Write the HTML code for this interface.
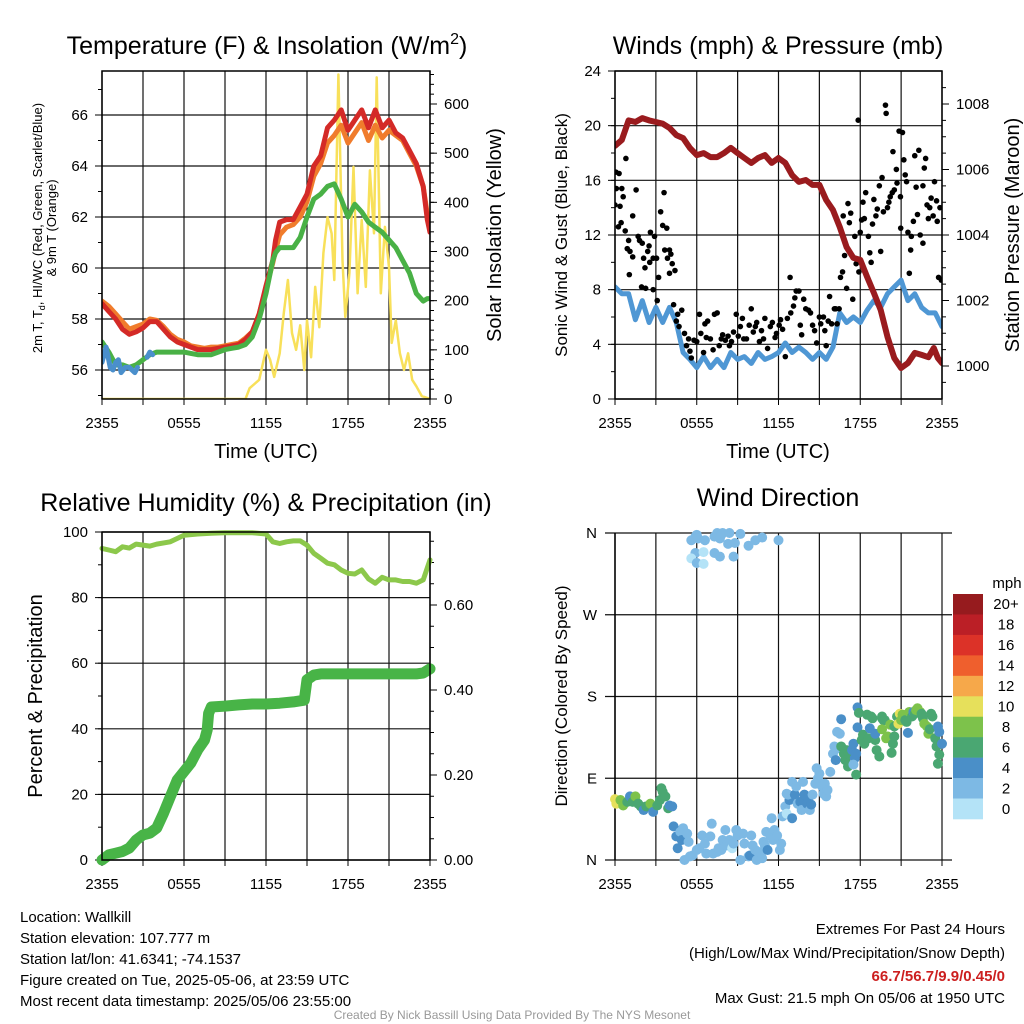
<!DOCTYPE html>
<html><head><meta charset="utf-8"><style>
html,body{margin:0;padding:0;background:#fff;}
svg{display:block;font-family:"Liberation Sans",Arial,sans-serif;}
</style></head><body>
<svg id="root" width="1024" height="1024" viewBox="0 0 1024 1024" xmlns="http://www.w3.org/2000/svg">
<rect width="1024" height="1024" fill="#fff"/>
<g id="p1"></g>
<g id="p2"></g>
<g id="p3"></g>
<g id="p4"></g>
<g font-size="25" text-anchor="middle" fill="#000">
<text x="267" y="54">Temperature (F) &amp; Insolation (W/m<tspan dy="-10" font-size="16">2</tspan><tspan dy="10">)</tspan></text>
<text x="778" y="54">Winds (mph) &amp; Pressure (mb)</text>
<text x="266" y="511">Relative Humidity (%) &amp; Precipitation (in)</text>
<text x="778" y="506">Wind Direction</text>
</g>
<g fill="#000" text-anchor="middle">
<text x="266" y="458" font-size="20">Time (UTC)</text>
<text x="778" y="458" font-size="20">Time (UTC)</text>
<text transform="translate(42,228) rotate(-90)" font-size="13">2m T, T<tspan font-size="9" dy="3">d</tspan><tspan dy="-3">, HI/WC (Red, Green, Scarlet/Blue)</tspan></text>
<text transform="translate(56,228) rotate(-90)" font-size="13">&amp; 9m T (Orange)</text>
<text transform="translate(501,235) rotate(-90)" font-size="20">Solar Insolation (Yellow)</text>
<text transform="translate(567,235) rotate(-90)" font-size="17">Sonic Wind &amp; Gust (Blue, Black)</text>
<text transform="translate(1019,235) rotate(-90)" font-size="20">Station Pressure (Maroon)</text>
<text transform="translate(42,696) rotate(-90)" font-size="20">Percent &amp; Precipitation</text>
<text transform="translate(567,696) rotate(-90)" font-size="17">Direction (Colored By Speed)</text>
</g>
<g id="cbar"></g>
<g font-size="15" fill="#000">
<text x="20" y="922">Location: Wallkill</text>
<text x="20" y="943">Station elevation: 107.777 m</text>
<text x="20" y="964">Station lat/lon: 41.6341; -74.1537</text>
<text x="20" y="985">Figure created on Tue, 2025-05-06, at 23:59 UTC</text>
<text x="20" y="1006">Most recent data timestamp: 2025/05/06 23:55:00</text>
</g>
<g font-size="15" fill="#000" text-anchor="end">
<text x="1005" y="934">Extremes For Past 24 Hours</text>
<text x="1005" y="958">(High/Low/Max Wind/Precipitation/Snow Depth)</text>
<text x="1005" y="981" fill="#cc1f1f" font-weight="bold">66.7/56.7/9.9/0.45/0</text>
<text x="1005" y="1003">Max Gust: 21.5 mph On 05/06 at 1950 UTC</text>
</g>
<text x="512" y="1019" font-size="12" fill="#999" text-anchor="middle">Created By Nick Bassill Using Data Provided By The NYS Mesonet</text>
</svg>
<script>
// ---------- DATA ----------
const xTickLabels = ["2355","0555","1155","1755","2355"];
const tempT = [0,0.5,1,1.5,2,2.5,3,3.5,4,4.5,5,5.5,6,6.5,7,7.5,8,8.5,9,9.5,10,10.5,11,11.5,12,12.5,12.7,13,13.5,14,14.5,15,15.5,16,16.5,17,17.5,18,18.5,19,19.5,20,20.5,21,21.5,22,22.5,23,23.5,23.8,24];
const tempRed = [58.6,58.3,58.0,57.6,57.4,57.5,57.65,57.9,57.9,57.6,57.3,57.1,57.0,56.9,56.8,56.8,56.8,56.85,56.9,56.95,57.0,57.2,57.5,58.2,59.3,60.3,61.1,61.8,61.9,61.9,62.4,62.9,64.0,64.4,65.5,65.8,66.2,65.4,65.8,66.2,65.5,66.2,65.5,65.8,65.3,65.1,64.6,64.1,63.2,61.9,61.4];
const tempOrange = [58.7,58.5,58.2,57.9,57.6,57.7,57.8,58.0,57.95,57.7,57.4,57.2,57.1,56.95,56.9,56.85,56.9,56.9,56.95,57.0,57.05,57.25,57.5,58.2,59.2,60.2,60.7,61.3,61.6,61.7,62.0,62.6,63.6,64.1,64.9,65.2,65.6,64.9,65.3,65.7,65.0,65.6,65.1,65.4,65.2,65.0,64.5,64.0,63.2,62.1,61.6];
const tempGreen = [57.1,56.7,56.2,56.2,56.1,56.2,56.4,56.6,56.7,56.7,56.7,56.7,56.7,56.65,56.6,56.6,56.6,56.7,56.8,56.85,56.9,57.0,57.3,58.0,59.0,60.3,60.6,60.8,60.8,60.8,61.2,62.0,62.7,62.9,63.2,63.3,62.7,62.0,62.5,62.2,61.8,61.6,61.4,61.1,60.8,60.3,59.8,59.0,58.7,58.8,58.8];
const hiT = [0,0.15,0.3,0.45,0.6,0.8,1.0,1.2,1.4,1.7,2.0,2.2,2.4,2.6];
const hiV = [56.3,56.6,56.9,56.5,56.1,56.0,56.3,56.4,55.9,56.1,56.1,56.0,55.9,56.1];
const hiT2 = [3.3,3.5,3.7];
const hiV2 = [56.5,56.7,56.6];
const solarT = [0,10.5,10.8,11.5,12,12.3,12.6,13,13.3,13.6,13.9,14.2,14.5,14.8,15,15.3,15.6,15.9,16.2,16.5,16.8,17,17.3,17.6,17.8,18.1,18.4,18.7,19,19.3,19.6,19.9,20.1,20.4,20.7,21,21.2,21.5,21.8,22.1,22.4,22.7,23,23.4,24];
const solarW = [0,0,22,39,100,80,45,93,175,242,134,100,150,59,160,85,228,146,297,370,337,242,660,282,167,256,472,215,364,228,465,337,654,215,350,268,114,160,93,59,93,39,26,6,0];
const windT = [0,0.5,1,1.5,2,2.5,3,3.5,4,4.5,5,5.5,6,6.5,7,7.5,8,8.5,9,9.5,10,10.5,11,11.5,12,12.5,13,13.5,14,14.5,15,15.5,16,16.5,17,17.5,18,18.5,19,19.5,20,20.5,21,21.5,22,22.5,23,23.5,24];
const windSpd = [8.2,7.7,7.7,5.8,7.2,5.6,6.7,5.6,6.7,5.6,3.4,2.9,2.3,3.1,2.3,2.9,2.3,3.4,2.9,3.1,2.6,3.4,2.9,3.1,3.4,4.1,3.4,3.8,3.4,2.9,3.4,2.9,3.8,6.3,5.6,6.0,5.6,6.5,7.2,6.7,7.7,8.2,8.7,7.2,7.7,6.7,6.3,6.3,5.3];
const presT = [0,0.5,1,1.5,2,2.5,3,3.5,4,4.5,5,5.5,6,6.5,7,7.5,8,8.5,9,9.5,10,10.5,11,11.5,12,12.5,13,13.5,14,14.5,15,15.5,16,16.5,17,17.5,18,18.5,19,19.5,20,20.5,21,21.5,22,22.5,23,23.4,23.7,24];
const presMb = [1006.72,1006.9,1007.5,1007.45,1007.57,1007.5,1007.45,1007.4,1007.27,1007.05,1006.96,1006.66,1006.44,1006.5,1006.38,1006.38,1006.5,1006.66,1006.5,1006.35,1006.2,1006.35,1006.44,1006.2,1006.35,1006.2,1005.83,1005.62,1005.68,1005.53,1005.53,1005.07,1004.76,1004.24,1003.63,1003.3,1003.24,1002.72,1002.23,1001.71,1000.89,1000.24,999.94,1000.09,1000.4,1000.34,1000.27,1000.55,1000.24,1000.09];
const gustT = [0,0.07,0.3,0.1,0.37,0.25,0.5,0.6,0.8,0.45,0.75,1,0.9,1.1,1.3,1.3,1.55,1.7,1.8,2.0,2.1,2.2,2.4,2.5,2.6,2.55,2.8,2.9,3.05,1.95,2.25,2.8,3.1,3.2,3.35,3.5,3.6,3.65,3.8,3.85,4.0,4.0,4.1,4.2,4.4,1.05,4.3,4.5,4.6,4.7,4.9,5.1,5.25,5.4,5.5,5.6,5.8,6.0,6.2,6.3,6.5,6.6,6.7,6.8,7.0,7.2,7.3,7.5,7.65,7.8,7.9,8.1,8.3,8.4,8.55,8.7,8.9,9.05,9.2,9.35,9.45,9.65,9.85,10.0,10.15,10.3,10.4,10.6,10.75,10.9,11.0,11.2,11.4,11.55,11.75,11.85,12.05,12.15,12.3,12.5,12.65,12.85,12.9,13.1,13.2,13.3,13.5,13.6,13.7,13.85,14.0,14.2,14.35,14.5,14.65,14.8,15.0,15.1,15.3,15.4,15.5,15.65,15.75,15.9,16.1,16.2,16.3,16.45,16.55,16.7,16.75,16.85,17.0,17.1,17.2,17.3,17.45,17.6,17.7,17.9,18.0,18.1,18.2,17.85,18.3,18.4,18.6,18.7,18.8,18.9,19.0,19.15,19.25,19.4,19.5,19.6,19.7,19.85,20.0,19.9,20.1,20.2,20.35,20.4,20.5,20.65,20.7,20.85,20.95,20.97,21.1,21.2,21.3,21.4,21.5,21.6,21.7,21.75,21.9,22.0,22.1,22.2,22.3,22.4,22.6,22.6,22.7,22.8,22.9,23.0,23.1,23.2,23.35,23.45,23.6,23.65,23.75,23.85,23.95];
const gustV = [14.2,16.6,16.5,15.4,14.1,12.6,15.4,14.8,17.6,12.9,12.3,11.6,11.0,10.8,10.4,13.4,15.3,11.9,11.6,11.4,10.3,9.6,10.8,11.2,12.2,10.0,10.3,11.9,10.3,8.2,8.1,8.0,7.2,8.9,13.7,12.7,15.1,10.9,12.5,10.3,10.9,9.2,10.6,9.9,9.4,9.1,6.9,5.7,6.2,5.3,6.5,4.8,3.9,4.4,3.5,3.0,4.3,4.2,6.2,4.8,3.4,5.5,4.5,5.7,4.4,3.6,6.2,6.3,3.9,4.4,4.7,4.3,4.6,3.9,4.2,4.9,6.2,4.6,5.3,5.9,4.4,4.4,5.4,6.6,4.9,5.3,5.6,4.2,5.0,4.4,5.9,3.7,5.3,5.6,4.5,4.8,5.4,5.8,5.1,3.1,5.9,8.9,6.3,6.8,7.4,7.9,7.9,5.4,4.7,7.3,6.6,6.5,6.3,5.4,5.0,4.1,6.0,5.5,6.0,5.0,3.9,5.7,7.5,5.5,6.6,6.6,5.5,6.6,8.9,9.3,13.4,10.5,8.1,14.3,12.9,13.6,7.3,11.9,9.9,9.3,12.2,13.1,14.4,20.4,13.2,15.1,11.9,10.7,10.0,12.8,14.6,13.4,13.9,15.6,10.8,16.2,13.7,21.5,14.0,20.9,14.4,14.8,15.1,18.1,15.3,16.8,15.8,19.6,14.8,12.5,19.5,17.5,16.4,15.9,12.2,9.2,10.9,11.9,13.0,17.8,15.5,13.5,18.2,12.0,15.6,11.4,16.9,17.6,14.2,13.2,14.0,14.7,13.4,15.9,14.5,13.0,8.9,14.0,8.7];
const rhT = [0,0.5,1,1.5,2,2.5,3,3.5,4,5,6,7,8,9,10,11,12,12.5,13,13.5,14,14.5,15,15.5,16,16.5,17,17.5,18,18.5,19,19.5,20,20.5,21,21.5,22,22.5,23,23.5,24];
const rhPct = [95.0,94.5,94.0,95.5,95.1,96.3,96.0,95.7,96.3,97.0,99.0,99.4,99.6,99.8,99.8,99.8,99.4,97.0,96.5,97.0,97.3,97.3,96.0,93.5,92.0,90.5,90.0,88.4,87.4,87.2,88.4,85.7,84.4,86.2,85.4,85.4,84.9,84.9,84.4,85.4,91.5];
const prT = [0,0.5,1,1.5,2,2.5,3,3.5,4,4.5,5,5.5,6,6.5,7,7.5,7.7,7.8,8,9,10,11,12,13,14,14.8,15,15.5,16,17,18,19,20,21,22,23,23.5,24];
const prIn = [0,0.012,0.016,0.02,0.028,0.047,0.059,0.063,0.075,0.11,0.149,0.188,0.208,0.228,0.259,0.282,0.306,0.345,0.36,0.362,0.365,0.367,0.367,0.369,0.372,0.376,0.424,0.435,0.438,0.438,0.438,0.438,0.438,0.438,0.438,0.438,0.44,0.45];
const dirT = [0,0.1,0.4,0.6,0.9,1.1,1.3,1.5,1.7,1.9,2.1,2.3,2.6,2.8,3.1,3.3,3.4,3.5,3.7,3.9,4.0,4.2,
4.3,4.5,4.6,4.8,4.9,5.0,5.3,5.4,5.1,5.5,5.7,6.0,6.2,6.4,6.6,6.7,7.0,7.1,7.2,7.5,7.6,7.8,7.9,8.1,8.2,8.4,8.6,8.7,8.9,9.0,9.2,9.4,9.5,9.8,9.9,10.0,10.1,10.3,10.4,10.5,10.6,10.8,10.9,11.0,11.1,11.2,11.4,11.5,11.6,11.7,11.9,12.1,12.2,
5.6,5.9,6.0,6.1,6.6,5.9,6.5,5.6,6.0,6.5,7.3,7.5,7.8,7.7,7.9,8.4,8.3,8.8,9.2,7.3,7.7,8.7,9.8,10.3,10.8,12.0,
12.3,12.5,12.6,12.8,13.0,12.7,12.6,13.0,13.2,13.3,13.4,13.6,13.7,13.8,13.9,14.1,14.2,14.3,14.4,14.5,14.7,14.8,14.9,15.0,15.2,15.3,15.4,15.5,15.6,15.8,16.0,16.1,16.3,16.4,16.5,16.2,
16.6,16.6,16.8,16.9,17.0,17.1,17.2,17.4,17.5,17.6,17.5,17.7,17.7,17.8,17.8,17.9,18.1,18.2,18.3,18.5,18.6,18.7,18.8,18.9,19.1,19.1,19.2,19.4,19.6,19.6,19.7,19.6,19.8,19.9,20.0,20.2,20.3,20.4,20.5,20.5,20.7,20.8,20.9,21.0,21.1,21.3,21.4,21.5,21.6,21.8,21.9,22.0,22.1,22.2,22.4,22.5,22.6,22.7,22.9,23.0,23.1,23.2,23.3,23.5,23.6,23.7,23.8,23.8,23.7,24.0];
const dirDeg = [67,62,66,60,64,70,64,70,62,59,55,59,62,53,60,66,79,75,70,57,60,59,
37,26,13,31,22,35,29,20,0,4,5,11,13,27,18,7,26,40,7,9,13,11,22,33,16,22,13,18,33,27,0,29,18,4,5,27,16,11,0,9,7,2,20,16,31,11,27,46,22,33,27,11,18,
352,356,358,354,352,338,339,332,327,326,356,360,358,354,360,360,348,349,359,338,334,334,346,352,355,352,
48,59,51,66,46,72,73,86,72,81,62,64,55,86,72,62,68,55,61,72,84,101,90,95,81,73,84,70,77,97,117,125,141,123,139,110,
155,125,117,110,121,103,116,121,128,112,105,94,117,146,168,162,132,138,128,160,134,145,158,156,132,139,121,114,156,158,154,144,154,134,136,149,118,128,136,147,158,150,161,154,160,154,152,140,163,158,163,161,165,167,163,161,156,150,147,139,144,161,158,134,125,147,116,141,106,128];
const dirSpd = [10,9,8,7,5,4,6,7,6,6,4,6,8,4,6,6,6,6,6,6,4,4,
4,4,4,2,4,2,2,2,2,2,2,2,2,2,2,2,2,2,2,2,2,2,2,2,2,2,0,2,2,2,2,2,2,2,4,2,2,2,2,2,2,2,2,2,2,4,2,2,2,2,2,2,2,
2,2,2,2,2,2,0,0,2,0,2,2,2,2,2,2,2,2,2,2,2,2,2,2,2,2,
2,2,0,4,4,2,2,2,4,2,2,4,2,2,4,4,4,2,4,2,2,2,2,2,2,2,2,2,2,2,2,2,2,2,2,4,
4,6,6,6,6,6,6,4,4,4,2,6,4,4,4,6,6,6,6,6,6,4,6,6,6,4,6,6,6,6,6,8,6,8,8,8,6,6,6,6,6,10,10,8,8,6,6,4,8,6,4,6,8,8,8,6,6,8,8,8,6,6,6,6,6,4,6,4,6,4];
const cbarLabels = ["20+","18","16","14","12","10","8","6","4","2","0"];
const cbarColors = ["#961b1e","#bb1f26","#dc3228","#ef5f2d","#f6a84a","#e6e05b","#7dc24b","#4aa772","#4a8fc8","#7db9e4","#b4e3f7"];

// ---------- RENDER ----------
const NS="http://www.w3.org/2000/svg";
function el(tag, attrs, parent){const e=document.createElementNS(NS,tag);for(const k in attrs)e.setAttribute(k,attrs[k]);parent.appendChild(e);return e;}
function lin(d0,d1,r0,r1){return v=>r0+(v-d0)*(r1-r0)/(d1-d0);}

function frame(g, P, xs){
  for(let h=0;h<=24;h+=3){
    const x=xs(h);
    const l=el('line',{x1:x,y1:P.y0,x2:x,y2:P.y1,stroke:'#111','stroke-width':1.2},g);
    
    
    const t=el('line',{x1:x,y1:P.y1,x2:x,y2:P.y1+6,stroke:'#000','stroke-width':1},g);
    
    
  }
  for(let i=0;i<xTickLabels.length;i++){
    const tx=el('text',{x:xs(i*6),y:P.y1+29,'font-size':15,'text-anchor':'middle'},g);
    tx.textContent=xTickLabels[i];
    
    
  }
}
function hgrid(g,P,y){
  const l=el('line',{x1:P.x0,y1:y,x2:P.x1,y2:y,stroke:'#111','stroke-width':1.2},g);
  
  
}
function leftAxis(g,P,ys,major,minor,fmt,gridOn){
  for(const v of minor){const y=ys(v);const t=el('line',{x1:P.x0-4,y1:y,x2:P.x0,y2:y,stroke:'#000','stroke-width':1},g);
    
    }
  for(const v of major){const y=ys(v);
    if(gridOn)hgrid(g,P,y);
    const t=el('line',{x1:P.x0-7,y1:y,x2:P.x0,y2:y,stroke:'#000','stroke-width':1},g);
    
    
    const tx=el('text',{x:P.x0-14,y:y+5,'font-size':15,'text-anchor':'end'},g);tx.textContent=fmt(v);
    
    }
}
function rightAxis(g,P,ys,major,minor,fmt){
  for(const v of minor){const y=ys(v);const t=el('line',{x1:P.x1,y1:y,x2:P.x1+4,y2:y,stroke:'#000','stroke-width':1},g);
    
    }
  for(const v of major){const y=ys(v);
    const t=el('line',{x1:P.x1,y1:y,x2:P.x1+7,y2:y,stroke:'#000','stroke-width':1},g);
    
    
    const tx=el('text',{x:P.x1+14,y:y+5,'font-size':15,'text-anchor':'start'},g);tx.textContent=fmt(v);
    
    }
}
function border(g,P){
  const r=el('rect',{x:P.x0,y:P.y0,width:P.x1-P.x0,height:P.y1-P.y0,fill:'none',stroke:'#000','stroke-width':1.5},g);
  
  
}
function path(g,T,V,xs,ys,color,w,name){
  let d='';for(let i=0;i<T.length;i++){d+=(i?'L':'M')+xs(T[i]).toFixed(1)+','+ys(V[i]).toFixed(1);}
  const p=el('path',{d:d,fill:'none',stroke:color,'stroke-width':w,'stroke-linejoin':'round','stroke-linecap':'round'},g);
  
  
  return p;
}
function range(a,b,s){const r=[];for(let v=a;v<=b+1e-9;v+=s)r.push(+v.toFixed(4));return r;}

(function(){
  const g=document.getElementById('p1');
  const P={x0:102,x1:430,y0:71,y1:399};
  const xs=lin(0,24,P.x0,P.x1);
  const ys=lin(56,66,370,115);
  const ys2=lin(0,600,399,104);
  frame(g,P,xs);
  leftAxis(g,P,ys,[56,58,60,62,64,66],range(55,67,1),v=>String(v),true);
  rightAxis(g,P,ys2,[0,100,200,300,400,500,600],range(0,660,20),v=>String(v));
  const clip=el('clipPath',{id:'c1'},g);el('rect',{x:P.x0,y:P.y0,width:P.x1-P.x0,height:P.y1-P.y0},clip);
  const d=el('g',{'clip-path':'url(#c1)'},g);
  path(d,solarT,solarW,xs,ys2,'#f8e05a',2.5,'solar-insolation-line');
  path(d,tempT,tempOrange,xs,ys,'#f07c2c',5,'temp-9m-line');
  path(d,tempT,tempRed,xs,ys,'#d42a27',5,'temp-2m-line');
  path(d,tempT,tempGreen,xs,ys,'#49b146',5,'dewpoint-line');
  path(d,hiT,hiV,xs,ys,'#4a8fcc',5,'heat-index-windchill-line');
  path(d,hiT2,hiV2,xs,ys,'#4a8fcc',5,'heat-index-windchill-line-2');
  border(g,P);
})();

(function(){
  const g=document.getElementById('p2');
  const P={x0:615,x1:942,y0:71,y1:399};
  const xs=lin(0,24,P.x0,P.x1);
  const ys=lin(0,24,399,71);
  const ys2=lin(1000,1008,366,104);
  frame(g,P,xs);
  leftAxis(g,P,ys,[0,4,8,12,16,20,24],range(0,24,2),v=>String(v),true);
  rightAxis(g,P,ys2,[1000,1002,1004,1006,1008],range(999.5,1008.5,0.5),v=>String(v));
  const clip=el('clipPath',{id:'c2'},g);el('rect',{x:P.x0,y:P.y0,width:P.x1-P.x0,height:P.y1-P.y0},clip);
  const d=el('g',{'clip-path':'url(#c2)'},g);
  path(d,windT,windSpd,xs,ys,'#4f97d4',5,'sonic-wind-line');
  for(let i=0;i<gustT.length;i++){
    const c=el('circle',{cx:xs(gustT[i]),cy:ys(gustV[i]),r:2.8,fill:'#000'},d);
    
    
  }
  path(d,presT,presMb,xs,ys2,'#9a1b1e',6,'pressure-line');
  border(g,P);
})();

(function(){
  const g=document.getElementById('p3');
  const P={x0:102,x1:430,y0:532,y1:860};
  const xs=lin(0,24,P.x0,P.x1);
  const ys=lin(0,100,860,532);
  const ys2=lin(0,0.6,860,605);
  frame(g,P,xs);
  leftAxis(g,P,ys,[0,20,40,60,80,100],range(0,100,10),v=>String(v),true);
  rightAxis(g,P,ys2,[0,0.2,0.4,0.6],range(0,0.75,0.05),v=>v.toFixed(2));
  const d=el('g',{},g);
  path(d,rhT,rhPct,xs,ys,'#8cc84b',5,'relative-humidity-line');
  path(d,prT,prIn,xs,ys2,'#48b447',11,'precipitation-line');
  border(g,P);
})();

(function(){
  const g=document.getElementById('p4');
  const P={x0:615,x1:942,y0:533,y1:860};
  const xs=lin(0,24,P.x0,P.x1);
  const ys=lin(0,360,860,533);
  frame(g,P,xs);
  const dirs=[[0,'N'],[90,'E'],[180,'S'],[270,'W'],[360,'N']];
  for(const [v,lab] of dirs){const y=ys(v);
    const l=el('line',{x1:P.x0-10,y1:y,x2:P.x1+10,y2:y,stroke:'#111','stroke-width':1.2},g);
    
    
    const tx=el('text',{x:P.x0-18,y:y+5,'font-size':15,'text-anchor':'end'},g);tx.textContent=lab;
    
    }
  const l=el('line',{x1:P.x0,y1:P.y0,x2:P.x0,y2:P.y1,stroke:'#000','stroke-width':1.5},g);
  
  
  for(let i=0;i<dirT.length;i++){
    const idx=Math.min(10,Math.round(dirSpd[i]/2));
    const c=el('circle',{cx:xs(dirT[i]),cy:ys(dirDeg[i]),r:5,fill:cbarColors[10-idx]},g);
    
    
  }
  const cb=document.getElementById('cbar');
  const t=el('text',{x:1007,y:588,'font-size':15,'text-anchor':'middle'},cb);t.textContent='mph';
  
  
  const h=225/cbarColors.length;
  for(let i=0;i<cbarColors.length;i++){
    const r=el('rect',{x:953,y:594+i*h,width:30,height:h+0.3,fill:cbarColors[i]},cb);
    
    
    const tx=el('text',{x:1006,y:594+i*h+h/2+5,'font-size':15,'text-anchor':'middle'},cb);tx.textContent=cbarLabels[i];
    
    
  }
})();
</script>
</body></html>
